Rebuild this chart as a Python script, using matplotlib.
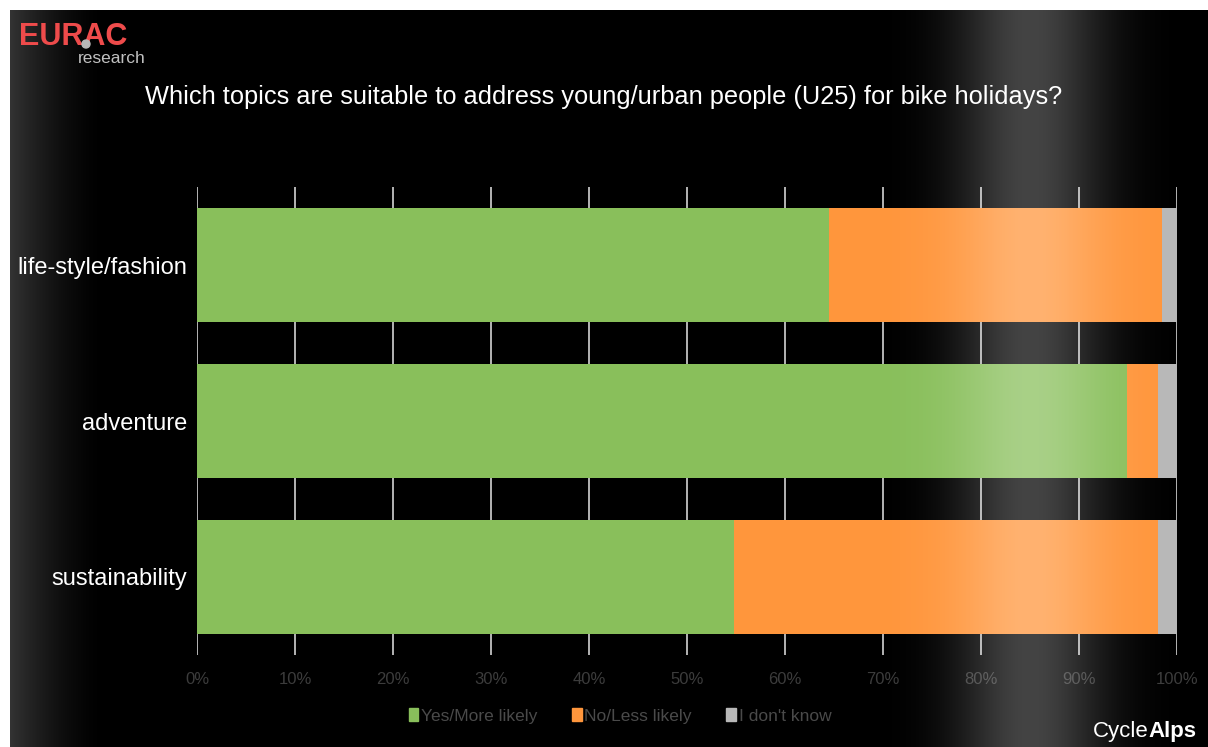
import numpy as np
import matplotlib
matplotlib.use("Agg")
import matplotlib.pyplot as plt
from matplotlib.patches import Patch, Ellipse

# ---------------- data ----------------
categories = ["life-style/fashion", "adventure", "sustainability"]
yes_more = [64.5, 94.9, 54.8]
no_less = [34.0, 3.2, 43.3]
dont_know = [1.5, 1.9, 1.9]
series_labels = ["Yes/More likely", "No/Less likely", "I don't know"]
xticks = [0, 10, 20, 30, 40, 50, 60, 70, 80, 90, 100]
xtick_labels = [f"{t}%" for t in xticks]
title = "Which topics are suitable to address young/urban people (U25) for bike holidays?"

colors = ["#89BF5B", "#FF963C", "#B8B8B8"]
FONT = ["Liberation Sans", "DejaVu Sans"]

W, H = 1208, 747
fig = plt.figure(figsize=(W / 100, H / 100), dpi=100)
fig.patch.set_facecolor("white")

# ---------------- background ----------------
xs = np.arange(W)
ys = np.arange(H)
X, Y = np.meshgrid(xs, ys)
g = 0x33 / 255 * np.clip(1 - (X - 10) / 95.0, 0, 1) ** 1.6
bg = np.dstack([g, g, g])
white = (X < 10) | (Y < 10)
bg[white] = 1.0
bgax = fig.add_axes([0, 0, 1, 1], zorder=-5)
bgax.imshow(bg, aspect="auto", interpolation="bilinear")
bgax.set_axis_off()

# ---------------- main axes ----------------
fl = 197 / W
fw = 980 / W
fb = (H - 655) / H
fh = 468 / H
ax = fig.add_axes([fl, fb, fw, fh])
ax.set_facecolor("none")
for s in ax.spines.values():
    s.set_visible(False)

ypos = np.arange(len(categories))
left = np.zeros(len(categories))
for vals, c, lab in zip([yes_more, no_less, dont_know], colors, series_labels):
    ax.barh(ypos, vals, left=left, height=0.73, color=c, label=lab,
            zorder=3, linewidth=0)
    left = left + np.array(vals)

ax.set_xlim(0, 100)
ax.set_ylim(len(categories) - 0.5, -0.5)
ax.set_xticks(xticks)
ax.set_xticklabels(xtick_labels, fontsize=12, color="#3c3c3c", family=FONT)
ax.set_yticks(ypos)
ax.set_yticklabels(categories, fontsize=17, color="white", family=FONT)
ax.tick_params(axis="both", length=0)
ax.tick_params(axis="x", pad=12)
ax.tick_params(axis="y", pad=7)
ax.grid(axis="x", color="#b4b4b4", linewidth=1.4, zorder=1)
ax.set_axisbelow(True)

# ---------------- texts ----------------
fig.text(145 / W, 1 - 97 / H, title, fontsize=18.3, color="white",
         family=FONT, va="center", ha="left")

fig.text(19 / W, 1 - 45 / H, "EURAC", fontsize=22, color="#EE4B4B",
         fontweight="bold", family=FONT, va="baseline", ha="left")
fig.text(78 / W, 1 - 51 / H, "research", fontsize=12.5, color="#c0c0c0",
         family=FONT, va="top", ha="left")
fig.patches.append(Ellipse((86 / W, 1 - 44 / H), 8 / W, 8 / H,
                           transform=fig.transFigure, color="#b8b8b8", zorder=4))

t1 = fig.text(1093 / W, 1 - 732 / H, "Cycle", fontsize=16, color="white",
              family=FONT, va="center", ha="left")
fig.canvas.draw()
bb = t1.get_window_extent()
fig.text(bb.x1 / W, 1 - 732 / H, "Alps", fontsize=16, color="white",
         fontweight="bold", family=FONT, va="center", ha="left")

leg = fig.legend(handles=[Patch(color=c, label=l) for c, l in zip(colors, series_labels)],
                 loc="center", bbox_to_anchor=(620 / W, 1 - 716 / H), ncol=3,
                 frameon=False, handlelength=0.55, handleheight=0.75,
                 handletextpad=0.15, columnspacing=2.0,
                 prop={"family": FONT, "size": 12.5})
for t in leg.get_texts():
    t.set_color("#4a4a4a")

# ---------------- highlight overlay ----------------
alpha = 0.27 * np.exp(-0.5 * ((X - 1030) / 52.0) ** 2)
alpha[white] = 0
ov = np.dstack([np.ones_like(alpha), np.ones_like(alpha), np.ones_like(alpha), alpha])
ovax = fig.add_axes([0, 0, 1, 1], zorder=20)
ovax.imshow(ov, aspect="auto", interpolation="bilinear")
ovax.set_axis_off()
ovax.patch.set_alpha(0)

fig.savefig("out.png", dpi=100, facecolor=fig.get_facecolor())
